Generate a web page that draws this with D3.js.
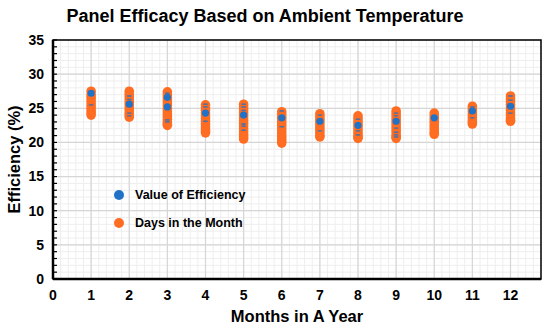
<!DOCTYPE html>
<html>
<head>
<meta charset="utf-8">
<script src="https://cdn.jsdelivr.net/npm/d3@7"></script>
<style>
  body { margin: 0; background: #fff; }
  text { font-family: "Liberation Sans", Arial, sans-serif; font-weight: bold; fill: #000; }
</style>
</head>
<body>
<svg id="chart" width="550" height="328"></svg>
<script>
// months on the x axis
var months = [1, 2, 3, 4, 5, 6, 7, 8, 9, 10, 11, 12];

// orange markers, one per day
var days = [
  [27.5, 27.0, 26.6, 26.2, 25.8, 25.4, 25.0, 24.6, 24.3, 24.0],
  [27.5, 27.1, 26.7, 26.3, 25.9, 25.5, 25.1, 24.7, 24.3, 24.0, 23.7],
  [27.4, 27.0, 26.6, 26.2, 25.8, 25.4, 25.0, 24.6, 24.2, 23.8, 23.4, 23.0, 22.7, 22.5],
  [25.5, 25.1, 24.7, 24.3, 23.9, 23.5, 23.1, 22.7, 22.3, 21.9, 21.6, 21.4],
  [25.6, 25.2, 24.8, 24.4, 24.0, 23.6, 23.2, 22.8, 22.4, 22.0, 21.6, 21.2, 20.8, 20.5],
  [24.5, 24.1, 23.7, 23.3, 22.9, 22.5, 22.1, 21.7, 21.3, 20.9, 20.5, 20.2, 19.9],
  [24.2, 23.8, 23.4, 23.0, 22.6, 22.2, 21.8, 21.4, 21.0, 20.8],
  [23.9, 23.5, 23.1, 22.7, 22.3, 21.9, 21.5, 21.1, 20.8, 20.6],
  [24.6, 24.2, 23.8, 23.4, 23.0, 22.6, 22.2, 21.8, 21.4, 21.0, 20.8, 20.6],
  [24.3, 23.9, 23.5, 23.1, 22.7, 22.3, 21.9, 21.5, 21.2],
  [25.3, 24.9, 24.5, 24.1, 23.7, 23.3, 23.0, 22.7],
  [26.8, 26.4, 26.0, 25.6, 25.2, 24.8, 24.4, 24.0, 23.6, 23.3, 23.1]
];

// blue markers that show fully
var efficiency = [
  [27.2],
  [25.6],
  [26.6, 25.2],
  [24.3],
  [24.0],
  [23.6],
  [23.1],
  [22.5],
  [23.1],
  [23.6],
  [24.6],
  [25.3]
];

// blue markers mostly hidden behind the orange ones
var hidden = [
  [25.5],
  [26.8, 26.3, 24.3, 23.9],
  [27.2, 23.3, 23.0],
  [25.6, 25.2, 23.1],
  [25.6, 25.2, 24.7, 22.7, 22.4, 21.8],
  [24.6, 22.3],
  [24.0, 21.7],
  [23.4, 21.7, 21.1],
  [24.3, 23.9, 22.1, 21.5, 21.1, 20.8],
  [],
  [25.2, 23.6],
  [26.8, 26.2, 24.3]
];

var yTicks = [0, 5, 10, 15, 20, 25, 30, 35];
var xTicks = [0, 1, 2, 3, 4, 5, 6, 7, 8, 9, 10, 11, 12];
var legendLabels = ["Value of Efficiency", "Days in the Month"];

var orange = "#ff6d22", blue = "#1f72c6";

var svg = d3.select("#chart");
var pLeft = 53, pRight = 541, pTop = 40, pBottom = 279;

var x = d3.scaleLinear().domain([0, 12.8]).range([pLeft, pRight]);
var y = d3.scaleLinear().domain([0, 35]).range([pBottom, pTop]);

// minor grid
var grid = svg.append("g");
grid.selectAll("line.mx").data(d3.range(0, 12.81, 0.2)).enter().append("line")
  .attr("x1", d => x(d)).attr("x2", d => x(d)).attr("y1", pTop).attr("y2", pBottom)
  .attr("stroke", "#eeeeee").attr("stroke-width", 1);
grid.selectAll("line.my").data(d3.range(0, 35.01, 1)).enter().append("line")
  .attr("y1", d => y(d)).attr("y2", d => y(d)).attr("x1", pLeft).attr("x2", pRight)
  .attr("stroke", "#eeeeee").attr("stroke-width", 1);
// major grid
grid.selectAll("line.Mx").data(xTicks).enter().append("line")
  .attr("x1", d => x(d)).attr("x2", d => x(d)).attr("y1", pTop).attr("y2", pBottom)
  .attr("stroke", "#d6d6d6").attr("stroke-width", 1.2);
grid.selectAll("line.My").data(yTicks).enter().append("line")
  .attr("y1", d => y(d)).attr("y2", d => y(d)).attr("x1", pLeft).attr("x2", pRight)
  .attr("stroke", "#d6d6d6").attr("stroke-width", 1.2);

// minor ticks inside the y axis
svg.append("g").selectAll("line").data(d3.range(0, 35.01, 1)).enter().append("line")
  .attr("x1", pLeft).attr("x2", pLeft + 4).attr("y1", d => y(d)).attr("y2", d => y(d))
  .attr("stroke", "#000").attr("stroke-width", 1.2);

// frame
svg.append("rect").attr("x", pLeft).attr("y", pTop)
  .attr("width", pRight - pLeft).attr("height", pBottom - pTop)
  .attr("fill", "none").attr("stroke", "#000").attr("stroke-width", 1.5);
svg.append("line").attr("x1", pLeft).attr("x2", pRight).attr("y1", pBottom).attr("y2", pBottom)
  .attr("stroke", "#000").attr("stroke-width", 2.5);
svg.append("line").attr("x1", pLeft).attr("x2", pLeft).attr("y1", pTop).attr("y2", pBottom)
  .attr("stroke", "#000").attr("stroke-width", 2.5);

// tick labels
svg.append("g").selectAll("text").data(yTicks).enter().append("text")
  .attr("x", pLeft - 9).attr("y", d => y(d)).attr("dy", "0.35em")
  .attr("text-anchor", "end").attr("font-size", 14).text(d => d);
svg.append("g").selectAll("text").data(xTicks).enter().append("text")
  .attr("x", d => x(d)).attr("y", pBottom + 21)
  .attr("text-anchor", "middle").attr("font-size", 14).text(d => d);

// points
var pts = svg.append("g");
months.forEach(function (m, i) {
  pts.append("g").selectAll("circle").data(days[i]).enter().append("circle")
    .attr("cx", x(m)).attr("cy", d => y(d)).attr("r", 4.8).attr("fill", orange);
  pts.append("g").selectAll("ellipse").data(hidden[i]).enter().append("ellipse")
    .attr("cx", x(m)).attr("cy", d => y(d)).attr("rx", 2.6).attr("ry", 0.9)
    .attr("fill", blue).attr("opacity", 0.75);
  pts.append("g").selectAll("circle").data(efficiency[i]).enter().append("circle")
    .attr("cx", x(m)).attr("cy", d => y(d)).attr("r", 3.6).attr("fill", blue);
});

// legend
var lg = svg.append("g").attr("transform", "translate(119,195)");
lg.selectAll("circle").data(legendLabels).enter().append("circle")
  .attr("cx", 0).attr("cy", (d, i) => i * 28).attr("r", 5)
  .attr("fill", (d, i) => i === 0 ? blue : orange);
lg.selectAll("text").data(legendLabels).enter().append("text")
  .attr("x", 16).attr("y", (d, i) => i * 28).attr("dy", "0.35em")
  .attr("font-size", 12.5).text(d => d);

// titles
svg.append("text").attr("x", 265).attr("y", 22).attr("text-anchor", "middle")
  .attr("font-size", 18).text("Panel Efficacy Based on Ambient Temperature");
svg.append("text").attr("x", (pLeft + pRight) / 2).attr("y", 322).attr("text-anchor", "middle")
  .attr("font-size", 16.5).text("Months in A Year");
svg.append("text").attr("transform", "translate(20," + (pTop + pBottom) / 2 + ") rotate(-90)")
  .attr("text-anchor", "middle").attr("font-size", 16.5).text("Efficiency (%)");
</script>
</body>
</html>
